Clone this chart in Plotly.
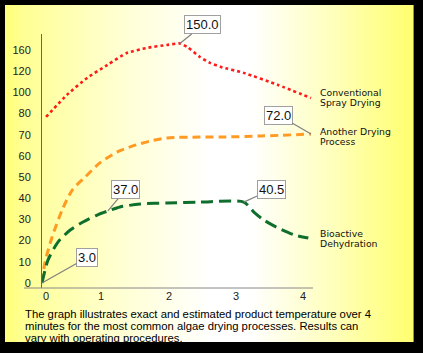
import plotly.graph_objects as go

# ---------------- data (y in displayed-axis units) ----------------
red_x = [0.06, 0.37, 0.67, 0.97, 1.26, 1.56, 1.86, 2.05, 2.16, 2.35, 2.50, 2.66, 3.00, 3.51, 4.00]
red_y = [78.4, 88.8, 96.8, 102.9, 108.6, 111.0, 112.4, 113.1, 111.4, 106.7, 103.9, 102.0, 99.2, 93.5, 87.3]

orange_x = [0.0, 0.045, 0.15, 0.30, 0.45, 0.64, 0.86, 1.12, 1.35, 1.61, 1.86, 2.35, 2.66, 3.26, 4.00]
orange_y = [0.5, 9.9, 21.7, 34.5, 43.9, 50.0, 56.7, 61.9, 64.7, 67.0, 68.5, 68.9, 68.9, 69.4, 70.3]

green_x = [0.0, 0.09, 0.24, 0.42, 0.61, 0.82, 0.98, 1.16, 1.46, 1.86, 2.35, 3.00, 3.15, 3.30, 3.51, 3.75, 3.96]
green_y = [0.0, 10.9, 19.4, 25.0, 28.8, 32.1, 34.0, 35.9, 37.3, 37.8, 38.2, 38.2, 33.5, 29.7, 26.0, 22.7, 21.2]

y_tick_labels = ["0", "10", "20", "30", "40", "50", "60", "70", "80", "100", "120", "160"]
x_tick_labels = ["0", "1", "2", "3", "4"]

callout_texts = ["150.0", "72.0", "37.0", "3.0", "40.5"]
callout_x = [2.05, 4.00, 0.98, 0.0, 3.0]
callout_y = [113.1, 70.3, 34.0, 0.0, 38.2]

series_names = [["Conventional", "Spray Drying"], ["Another Drying", "Process"], ["Bioactive", "Dehydration"]]

caption_lines = [
    "The graph illustrates exact and estimated product temperature over 4",
    "minutes for the most common algae drying processes. Results can",
    "vary with operating procedures.",
]

# ---------------- layout geometry ----------------
W, H = 423, 353
L, R, T, B = 42, 313, 34, 288  # plot area pixel box
PW, PH = R - L, B - T

def px(x):
    return (x - L) / PW

def py(y):
    return (B - y) / PH

fig = go.Figure()

fig.add_trace(go.Scatter(x=red_x, y=red_y, mode="lines",
                         line=dict(color="#FF1A1A", width=2.6, dash="dot", shape="spline", smoothing=0.5),
                         hoverinfo="skip"))
fig.add_trace(go.Scatter(x=orange_x, y=orange_y, mode="lines",
                         line=dict(color="#FF9A22", width=3, dash="8px,5px", shape="spline", smoothing=0.7),
                         hoverinfo="skip"))
fig.add_trace(go.Scatter(x=green_x, y=green_y, mode="lines",
                         line=dict(color="#0E6E2C", width=3, dash="12px,6px", shape="spline", smoothing=0.7),
                         hoverinfo="skip"))

# gradient background panel (stripes)
shapes = []
x_left, x_right = 5, 413
stops = [(5, 120), (25, 150), (110, 205), (210, 255), (250, 255), (330, 190), (413, 110)]

def blue_at(x):
    for (xa, ba), (xb, bb) in zip(stops[:-1], stops[1:]):
        if xa <= x <= xb:
            return ba + (bb - ba) * (x - xa) / (xb - xa)
    return stops[-1][1]

step = 4
x = x_left
while x < x_right:
    x2 = min(x + step, x_right)
    b = int(round(blue_at((x + x2) / 2)))
    shapes.append(dict(type="rect", xref="paper", yref="paper",
                       x0=px(x), x1=px(x2 + 0.6), y0=py(342), y1=py(5),
                       line=dict(width=0), fillcolor=f"rgb(255,255,{b})", layer="below"))
    x = x2

# x-axis line extending left of the y-axis
shapes.append(dict(type="line", xref="paper", yref="paper",
                   x0=px(24), x1=px(313), y0=0, y1=0,
                   line=dict(color="#888888", width=1), layer="above"))

annotations = []
box_offsets = [(23, -18.5), (-32.5, -19), (18, -21.5), (45, -25.5), (27.5, -12.5)]
for t, cx, cy, (ax, ay) in zip(callout_texts, callout_x, callout_y, box_offsets):
    annotations.append(dict(x=cx, y=cy, xref="x", yref="y", text=t, showarrow=True,
                            arrowhead=0, arrowwidth=1.2, arrowcolor="#808080",
                            ax=ax, ay=ay, bgcolor="white", bordercolor="#A0A0A0",
                            borderwidth=1, borderpad=1,
                            font=dict(family="Liberation Sans, Arial", size=13, color="#111")))

label_pos = [(318, 92.5, 102.5), (318, 131.5, 141.5), (318, 233.5, 243.5)]
for names, (lx, y1, y2) in zip(series_names, label_pos):
    for n, yy in zip(names, (y1, y2)):
        annotations.append(dict(x=px(lx), y=py(yy), xref="paper", yref="paper", text=n,
                                showarrow=False, xanchor="left", yanchor="middle",
                                font=dict(family="DejaVu Sans", size=9.3, color="#111")))

for line, yy in zip(caption_lines, (313.5, 325.5, 337.5)):
    annotations.append(dict(x=px(23), y=py(yy), xref="paper", yref="paper", text=line,
                            showarrow=False, xanchor="left", yanchor="middle",
                            font=dict(family="Liberation Sans, Arial", size=11.3, color="#000")))

x_scale = 67.25  # pixels per x unit
x_tick_px = [46, 101, 169, 236, 303]
y_unit = 233 / 110  # pixels per y unit

fig.update_layout(
    width=W, height=H,
    margin=dict(l=L, r=W - R, t=T, b=H - B, pad=0),
    paper_bgcolor="black",
    plot_bgcolor="rgba(0,0,0,0)",
    showlegend=False,
    shapes=shapes,
    annotations=annotations,
    xaxis=dict(range=[0, PW / x_scale], showgrid=False, zeroline=False, showline=False,
               tickvals=[(p - L) / x_scale for p in x_tick_px], ticktext=x_tick_labels,
               ticks="", tickfont=dict(family="Liberation Sans, Arial", size=11, color="#222"),
               fixedrange=True),
    yaxis=dict(range=[-(288 - 283) / y_unit, (283 - T) / y_unit], showgrid=False, zeroline=False,
               showline=True, linecolor="#666666", linewidth=1,
               tickvals=[i * 10 for i in range(len(y_tick_labels))], ticktext=y_tick_labels,
               ticks="", ticklabelstandoff=8,
               tickfont=dict(family="Liberation Sans, Arial", size=11, color="#222"),
               fixedrange=True),
)

fig.write_html("out.html", config={"displayModeBar": False})
